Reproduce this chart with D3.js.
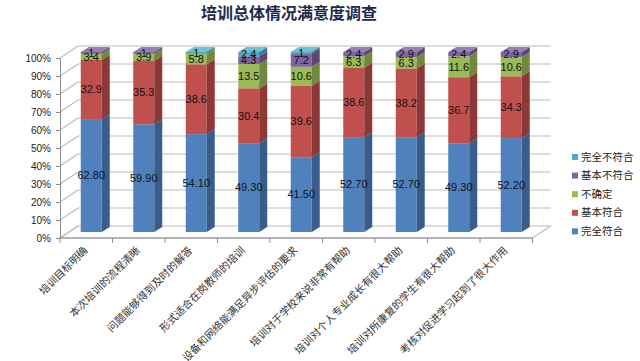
<!DOCTYPE html>
<html><head><meta charset="utf-8">
<script src="https://cdn.jsdelivr.net/npm/d3@7/dist/d3.min.js"></script>
<style>body{margin:0;background:#fff}svg{display:block}</style>
</head><body>
<svg id="c" width="640" height="361"></svg>
<script>
const title = "培训总体情况满意度调查";
const categories = ["培训目标明确","本次培训的流程清晰","问题能够得到及时的解答","形式适合在岗教师的培训","设备和网络能满足异步评估的要求","培训对于学校来说非常有帮助","培训对个人专业成长有很大帮助","培训对所康复的学生有很大帮助","考核对促进学习起到了很大作用"];
const seriesNames = ["完全符合","基本符合","不确定","基本不符合","完全不符合"];
const s1 = [62.80,59.90,54.10,49.30,41.50,52.70,52.70,49.30,52.20];
const s2 = [32.9,35.3,38.6,30.4,39.6,38.6,38.2,36.7,34.3];
const s3 = [3.4,3.9,5.8,13.5,10.6,6.3,6.3,11.6,10.6];
const s4 = [1,1,0,4.3,7.2,2.4,2.9,2.4,2.9];
const s5 = [0,0,1,2.4,1,0,0,0,0];
const yTicks = [0,0.1,0.2,0.3,0.4,0.5,0.6,0.7,0.8,0.9,1];

const front = ["#4F81BD","#C0504D","#9BBB59","#8064A2","#4BACC6"];
const side  = ["#385D8A","#8C3836","#71893F","#5C4776","#357D91"];
const topc  = ["#6F97CB","#D0706D","#B0CC78","#9880B6","#72C0D4"];

const svg = d3.select("#c");
const rows = categories.map((c,i)=>({cat:c, s0:s1[i], s1:s2[i], s2:s3[i], s3:s4[i], s4:s5[i]}));
const keys = ["s0","s1","s2","s3","s4"];
const stack = d3.stack().keys(keys).offset(d3.stackOffsetExpand)(rows);

const x0 = 60, x1 = 532.5, yBase = 238, yTop = 58;
const depth = [18,-12];
const x = d3.scaleBand().domain(categories).range([x0,x1]).paddingInner(0.6).paddingOuter(0.3);
const yAxisScale = d3.scaleLinear().domain([0,1]).range([yBase,yTop]);
const barOff = [5,-6];
const y = d3.scaleLinear().domain([0,1]).range([yBase+barOff[1], yTop+barOff[1]]);
const bd = [8,-5];

// title
svg.append("text").attr("x",289).attr("y",19).attr("text-anchor","middle")
  .attr("font-family","Noto Sans CJK SC").attr("font-weight","bold").attr("font-size",16)
  .attr("fill","#1c2a4a").text(title);

const grid = svg.append("g").attr("stroke","#bcbcbc").attr("stroke-width",1.2).attr("fill","none");
yTicks.forEach(t=>{
  const yy = yAxisScale(t);
  grid.append("line").attr("x1",x0).attr("y1",yy).attr("x2",x0+depth[0]).attr("y2",yy+depth[1]);
  if (t>0) grid.append("line").attr("x1",x0+depth[0]).attr("y1",yy+depth[1]).attr("x2",x1+depth[0]).attr("y2",yy+depth[1]);
});
// floor
grid.append("path").attr("d",`M${x0},${yBase}L${x1},${yBase}L${x1+depth[0]},${yBase+depth[1]}L${x0+depth[0]},${yBase+depth[1]}Z`);

// y axis
const yAxis = d3.axisLeft(yAxisScale).tickValues(yTicks).tickFormat(d3.format(".0%")).tickSize(4);
const ga = svg.append("g").attr("transform",`translate(${x0},0)`).call(yAxis);
ga.select(".domain").attr("stroke","#8c8c8c");
ga.selectAll(".tick line").attr("stroke","#8c8c8c");
ga.selectAll(".tick text").attr("font-family","Liberation Sans, Arial").attr("font-size",10).attr("fill","#222").attr("x",-9);

// category ticks on floor front edge
const ticksG = svg.append("g").attr("stroke","#8c8c8c");
d3.range(categories.length+1).forEach(i=>{
  const xx = x0 + i*x.step();
  ticksG.append("line").attr("x1",xx).attr("x2",xx).attr("y1",yBase).attr("y2",yBase+5);
});
svg.append("line").attr("x1",x0).attr("x2",x1).attr("y1",yBase).attr("y2",yBase).attr("stroke","#8c8c8c");

// bars
const bars = svg.append("g");
const labels = [];
stack.forEach((layer,si)=>{
  layer.forEach((d,ci)=>{
    const v = rows[ci][keys[si]];
    if (!v) return;
    const bx = x(categories[ci]) + barOff[0];
    const w = x.bandwidth();
    const ya = y(d[0]), yb = y(d[1]);
    bars.append("rect").attr("x",bx).attr("y",yb).attr("width",w).attr("height",ya-yb).attr("fill",front[si]);
    bars.append("path").attr("d",`M${bx+w},${ya}L${bx+w+bd[0]},${ya+bd[1]}L${bx+w+bd[0]},${yb+bd[1]}L${bx+w},${yb}Z`).attr("fill",side[si]);
    bars.append("path").attr("d",`M${bx},${yb}L${bx+w},${yb}L${bx+w+bd[0]},${yb+bd[1]}L${bx+bd[0]},${yb+bd[1]}Z`).attr("fill",topc[si]);
    labels.push({x:bx+w/2, y:(ya+yb)/2, t: si===0 ? d3.format(".2f")(v) : String(v)});
  });
});
svg.append("g").selectAll("text").data(labels).join("text")
  .attr("x",d=>d.x).attr("y",d=>d.y).attr("dy","0.35em").attr("text-anchor","middle")
  .attr("font-family","Liberation Sans, Arial").attr("font-size",11).attr("fill","#111")
  .text(d=>d.t);

// category labels
svg.append("g").selectAll("text").data(categories).join("text")
  .attr("transform",d=>`translate(${x(d)+x.bandwidth()/2+2},${yBase+13}) rotate(-45)`)
  .attr("text-anchor","end").attr("font-family","Noto Sans CJK SC").attr("font-size",10.5)
  .attr("fill","#333").text(d=>d);

// legend
const legOrder = [4,3,2,1,0];
const lg = svg.append("g");
legOrder.forEach((si,i)=>{
  const ly = 157 + i*18.6;
  lg.append("rect").attr("x",572).attr("y",ly-3).attr("width",6).attr("height",6).attr("fill",front[si]);
  lg.append("text").attr("x",581).attr("y",ly).attr("dy","0.35em").attr("font-family","Noto Sans CJK SC")
    .attr("font-size",10.5).attr("fill","#222").text(seriesNames[si]);
});
</script>
</body></html>
